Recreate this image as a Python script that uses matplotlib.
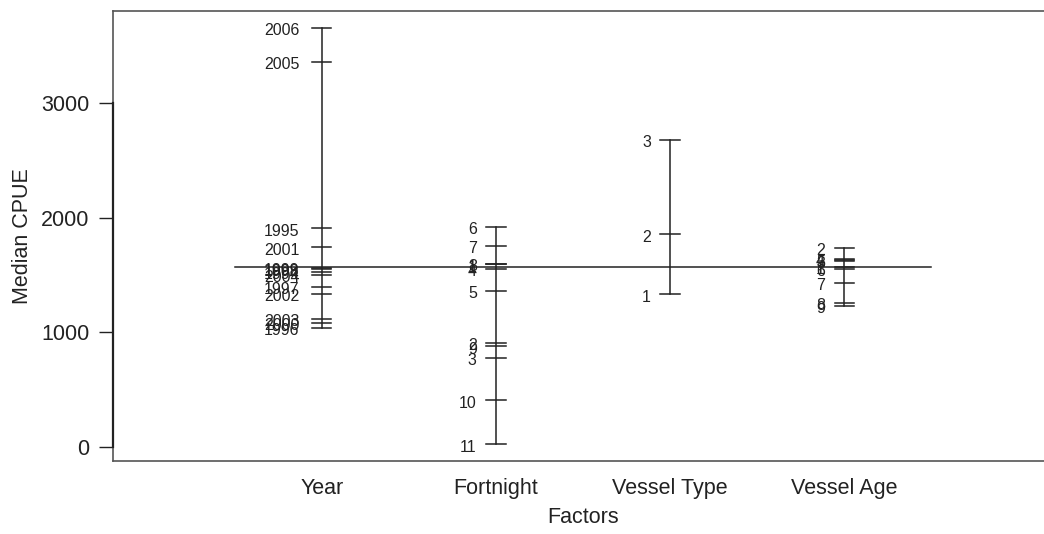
import matplotlib
matplotlib.use("Agg")
import matplotlib.pyplot as plt
import matplotlib.transforms as mtransforms

plt.rcParams['font.family'] = ['Liberation Sans', 'DejaVu Sans']

factors = ["Year", "Fortnight", "Vessel Type", "Vessel Age"]

year_levels = ["2006", "2005", "1995", "2001", "1999", "1998", "1994", "2004",
               "1997", "2002", "2003", "2000", "1996"]
year_values = [3661, 3364, 1908, 1742, 1565, 1552, 1530, 1505,
               1399, 1338, 1120, 1085, 1038]

fort_levels = ["6", "7", "8", "1", "4", "5", "2", "9", "3", "10", "11"]
fort_values = [1923, 1754, 1600, 1594, 1556, 1361, 910, 878, 779, 406, 22]

vtype_levels = ["3", "2", "1"]
vtype_values = [2679, 1856, 1332]

vage_levels = ["2", "4", "5", "3", "1", "6", "7", "8", "9"]
vage_values = [1740, 1640, 1630, 1622, 1574, 1556, 1434, 1259, 1230]

grand_median = 1568

y_ticks = [0, 1000, 2000, 3000]

groups = [(year_levels, year_values), (fort_levels, fort_values),
          (vtype_levels, vtype_values), (vage_levels, vage_values)]

fig = plt.figure(figsize=(10.44, 5.34), dpi=100)
ax = fig.add_axes([113/1044, 1 - 461/534, 940/1044, 450/534])

dark = "#222222"
lab_tr = ax.transData + mtransforms.ScaledTranslation(0, -2/72, fig.dpi_scale_trans)
for i, (labs, vals) in enumerate(groups, start=1):
    ax.plot([i, i], [min(vals), max(vals)], color=dark, lw=1.1)
    off = 0.13 if i == 1 else 0.11
    for lab, v in zip(labs, vals):
        ax.plot([i - 0.055, i + 0.055], [v, v], color=dark, lw=1.1)
        ax.text(i - off, v, lab, ha="right", va="center", fontsize=11.5,
                color=dark, transform=lab_tr)

ax.plot([0.5, len(factors) + 0.5], [grand_median, grand_median],
        color=dark, lw=1.1)

allv = [v for _, vals in groups for v in vals]
lo, hi = min(allv), max(allv)
pad = 0.04 * (hi - lo)
ax.set_ylim(lo - pad, hi + pad)
ax.set_xlim(-0.2, len(factors) + 1.2)

ax.set_yticks(y_ticks)
ax.set_yticklabels([str(t) for t in y_ticks])
ax.set_xticks(range(1, len(factors) + 1))
ax.set_xticklabels(factors)
ax.tick_params(axis="x", length=0, pad=12, labelsize=15.5, colors=dark)
ax.tick_params(axis="y", length=10, width=1, pad=7, labelsize=15.5,
               colors=dark)

for s in ["left", "top", "bottom", "right"]:
    ax.spines[s].set_color("#555555")
    ax.spines[s].set_linewidth(1.2)
ax.spines["left"].set_bounds(y_ticks[0], y_ticks[-1])
ax.spines["left"].set_color(dark)
ax.spines["left"].set_linewidth(1.6)
ax.plot([-0.2, -0.2], [lo - pad, hi + pad], color="#555555", lw=1.2,
        clip_on=False)

ax.set_xlabel("Factors", fontsize=15.5, color=dark, labelpad=6)
ax.set_ylabel("Median CPUE", fontsize=15.5, color=dark, labelpad=6)

fig.savefig("out.png", dpi=100)
